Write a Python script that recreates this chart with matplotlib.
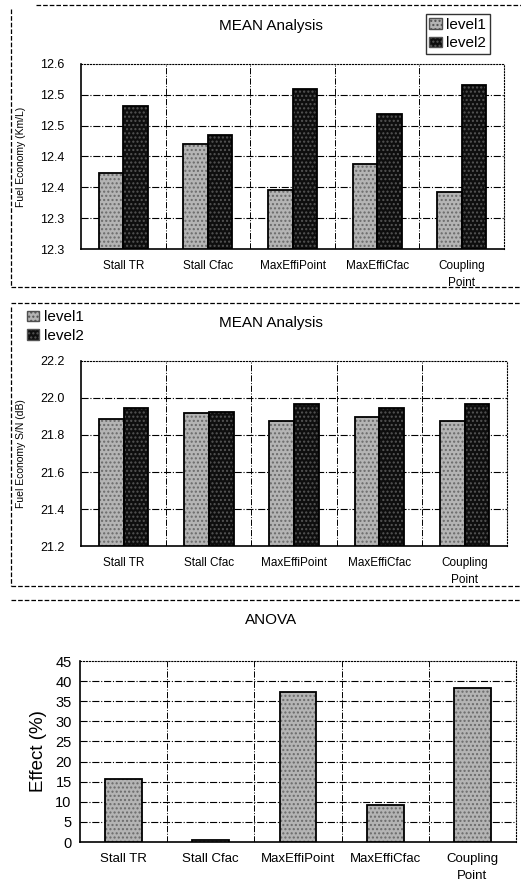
import numpy as np
import matplotlib
matplotlib.use("Agg")
import matplotlib.pyplot as plt
from matplotlib.lines import Line2D
from matplotlib.patches import Patch

plt.rcParams['font.family'] = ['Liberation Sans', 'DejaVu Sans']

# data
factors = ["Stall TR", "Stall Cfac", "MaxEffiPoint", "MaxEffiCfac", "Coupling\nPoint"]
km_level1 = [12.424, 12.471, 12.395, 12.438, 12.392]
km_level2 = [12.532, 12.484, 12.560, 12.519, 12.566]
km_ticks = [12.30, 12.35, 12.40, 12.45, 12.50, 12.55, 12.60]
km_ticklabels = ["12.3", "12.3", "12.4", "12.4", "12.5", "12.5", "12.6"]
sn_level1 = [21.885, 21.917, 21.876, 21.899, 21.876]
sn_level2 = [21.948, 21.924, 21.966, 21.944, 21.969]
sn_ticks = [21.2, 21.4, 21.6, 21.8, 22.0, 22.2]
sn_ticklabels = ["21.2", "21.4", "21.6", "21.8", "22.0", "22.2"]
effect = [15.7, 0.4, 37.4, 9.1, 38.4]
effect_ticks = [0, 5, 10, 15, 20, 25, 30, 35, 40, 45]

light = "#b4b4b4"
dark = "#0e0e0e"
x = np.arange(len(factors))


def hatched_bars(ax, xs, vals, width, face, dots, base):
    # dotted halftone look, then a black outline on top
    ax.bar(xs, np.array(vals) - base, width, bottom=base, color=face,
           hatch="....", edgecolor=dots, linewidth=0, zorder=3)
    ax.bar(xs, np.array(vals) - base, width, bottom=base, fill=False,
           edgecolor="black", linewidth=1.3, zorder=4)


def style_axes(ax, ticks, labels, fs, xfs=8.5):
    ax.set_xlim(-0.5, len(factors) - 0.5)
    ax.set_ylim(ticks[0], ticks[-1])
    ax.set_yticks(ticks)
    ax.set_yticklabels(labels, fontsize=fs)
    ax.set_xticks(x)
    ax.set_xticklabels(factors, fontsize=xfs, linespacing=1.5)
    ax.tick_params(length=0, pad=8)
    ax.tick_params(axis="y", pad=12)
    for yt in ticks[1:-1]:
        ax.axhline(yt, color="black", lw=0.8, ls="-.", zorder=1)
    for xv in x[:-1] + 0.5:
        ax.axvline(xv, color="black", lw=0.7, ls="-.", zorder=1)
    ax.spines["top"].set_linestyle(":")
    ax.spines["right"].set_linestyle(":")
    ax.spines["left"].set_linewidth(1.2)
    ax.spines["bottom"].set_linewidth(1.2)


fig = plt.figure(figsize=(5.21, 8.90), dpi=100)

# ---- panel 1 ----
ax1 = fig.add_axes([0.1555, 0.7202, 0.812, 0.208])
w = 0.29
hatched_bars(ax1, x - w / 2, km_level1, w, light, "#6a6a6a", km_ticks[0])
hatched_bars(ax1, x + w / 2, km_level2, w, dark, "#555555", km_ticks[0])
style_axes(ax1, km_ticks, km_ticklabels, 9)
ax1.set_ylabel("Fuel Economy (Km/L)", fontsize=7.5, labelpad=10)
fig.text(0.52, 0.971, "MEAN Analysis", ha="center", va="center", fontsize=11)
leg_handles = [Patch(facecolor=light, edgecolor="#505050", hatch="...."),
               Patch(facecolor=dark, edgecolor="#555555", hatch="....")]
fig.legend(leg_handles, ["level1", "level2"], loc="upper right",
           bbox_to_anchor=(0.955, 0.993), fontsize=11, frameon=True,
           fancybox=False, edgecolor="black", handlelength=0.8,
           handletextpad=0.3, borderpad=0.25, labelspacing=0.3)

# ---- panel 2 ----
ax2 = fig.add_axes([0.1555, 0.3865, 0.818, 0.2079])
hatched_bars(ax2, x - w / 2, sn_level1, w, light, "#6a6a6a", sn_ticks[0])
hatched_bars(ax2, x + w / 2, sn_level2, w, dark, "#555555", sn_ticks[0])
style_axes(ax2, sn_ticks, sn_ticklabels, 9)
ax2.set_ylabel("Fuel Economy S/N (dB)", fontsize=7.5, labelpad=10)
fig.text(0.52, 0.637, "MEAN Analysis", ha="center", va="center", fontsize=11)
fig.legend(leg_handles, ["level1", "level2"], loc="upper left",
           bbox_to_anchor=(0.03, 0.664), fontsize=11, frameon=False,
           handlelength=0.8, handletextpad=0.3, borderpad=0.25,
           labelspacing=0.3)

# ---- panel 3 ----
ax3 = fig.add_axes([0.1535, 0.0539, 0.837, 0.2034])
hatched_bars(ax3, x, effect, 0.42, light, "#6a6a6a", 0)
style_axes(ax3, effect_ticks, [str(t) for t in effect_ticks], 10.5, xfs=9.5)
ax3.tick_params(axis="y", pad=6)
ax3.set_ylabel("Effect (%)", fontsize=13.5, labelpad=6)
fig.text(0.52, 0.303, "ANOVA", ha="center", va="center", fontsize=11)

# scanned panel borders
border = dict(color="black", lw=0.9, ls="--", transform=fig.transFigure)
fig.add_artist(Line2D([0.07, 1.0], [0.994, 0.994], **border))
fig.add_artist(Line2D([0.022, 0.022], [0.99, 0.677], **border))
fig.add_artist(Line2D([0.022, 1.0], [0.677, 0.677], **border))
fig.add_artist(Line2D([0.022, 1.0], [0.659, 0.659], **border))
fig.add_artist(Line2D([0.022, 0.022], [0.655, 0.342], **border))
fig.add_artist(Line2D([0.022, 1.0], [0.342, 0.342], **border))
fig.add_artist(Line2D([0.022, 1.0], [0.326, 0.326], **border))

fig.savefig("out.png", dpi=100)
